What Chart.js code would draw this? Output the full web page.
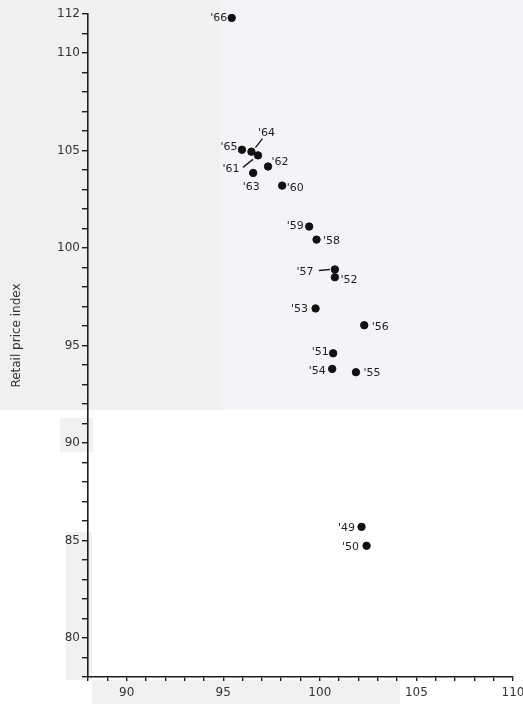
<!DOCTYPE html>
<html>
<head>
<meta charset="utf-8">
<script src="https://cdn.jsdelivr.net/npm/chart.js@4/dist/chart.umd.min.js"></script>
<style>
    html, body { margin: 0; padding: 0; background: #fff; }
    #wrap { width: 523px; height: 704px; position: relative; }
</style>
</head>
<body>
<div id="wrap"><canvas id="chart" width="523" height="704"></canvas></div>
<script>
// Year labels, with the index values
const years = ["'49", "'50", "'51", "'52", "'53", "'54", "'55", "'56", "'57", "'58",
    "'59", "'60", "'61", "'62", "'63", "'64", "'65", "'66"];
const xValues = [102.16, 102.42, 100.69, 100.78, 99.78, 100.64, 101.87, 102.3, 100.78, 99.83,
    99.45, 98.05, 96.8, 97.32, 96.55, 96.46, 95.97, 95.44];
const yValues = [85.7, 84.73, 94.6, 98.5, 96.9, 93.8, 93.63, 96.04, 98.9, 100.43,
    101.1, 103.2, 104.75, 104.18, 103.85, 104.94, 105.04, 111.8];

const xMin = 88, xMax = 110;
const yMin = 78, yMax = 112;
const yAxisTitle = 'Retail price index';

// label placement next to each dot (pixel offsets), plus leader lines
const labelPlacement = {
    "'49": [-15, 1], "'50": [-16, 1], "'51": [-13, -1], "'52": [14, 3],
    "'53": [-16, 1], "'54": [-15, 2], "'55": [16, 1], "'56": [16, 2],
    "'57": [-30, 3], "'58": [15, 2], "'59": [-14, 0], "'60": [13, 3],
    "'61": [-27, 14], "'62": [12, -4], "'63": [-2, 14], "'64": [15, -19],
    "'65": [-13, -3], "'66": [-13, 0]
};
const leaders = {
    "'64": [4, -4, 11, -13],
    "'61": [-15, 12, -5, 4],
    "'57": [-16, 1, -5, 0]
};

const FONT = '"DejaVu Sans", sans-serif';
const INK = '#1e1e1e';

const scanBackground = {
    id: 'scanBackground',
    beforeDraw(chart) {
        const ctx = chart.ctx;
        ctx.save();
        ctx.fillStyle = '#f0f0f0';
        ctx.fillRect(0, 0, 220, 410);
        ctx.fillStyle = '#f3f3f8';
        ctx.fillRect(220, 0, 303, 410);
        ctx.fillStyle = '#f1f1f1';
        ctx.fillRect(60, 418, 33, 34);
        ctx.fillRect(66, 532, 26, 148);
        ctx.fillRect(92, 680, 308, 24);
        ctx.restore();
    }
};

const pointLabels = {
    id: 'pointLabels',
    afterDatasetsDraw(chart) {
        const ctx = chart.ctx;
        const meta = chart.getDatasetMeta(0);

        ctx.save();
        ctx.font = `11px ${FONT}`;
        ctx.fillStyle = INK;
        ctx.strokeStyle = INK;
        ctx.lineWidth = 1.4;
        ctx.textAlign = 'center';
        ctx.textBaseline = 'middle';

        meta.data.forEach((pt, i) => {
            const year = years[i];
            const off = labelPlacement[year] || [12, 0];
            ctx.fillText(year, pt.x + off[0], pt.y + off[1]);

            const lead = leaders[year];
            if (lead) {
                ctx.beginPath();
                ctx.moveTo(pt.x + lead[0], pt.y + lead[1]);
                ctx.lineTo(pt.x + lead[2], pt.y + lead[3]);
                ctx.stroke();
            }
        });

        // rotated axis title
        const area = chart.chartArea;
        ctx.translate(17, (area.top + area.bottom) / 2 - 10);
        ctx.rotate(-Math.PI / 2);
        ctx.font = `12px ${FONT}`;
        ctx.fillStyle = '#333';
        ctx.fillText(yAxisTitle, 0, 0);
        ctx.restore();
    }
};

new Chart(document.getElementById('chart'), {
    type: 'scatter',
    data: {
        datasets: [{
            data: xValues.map((x, i) => ({x, y: yValues[i]})),
            backgroundColor: '#111',
            borderColor: '#111',
            pointRadius: 3.7,
            pointHoverRadius: 3.7
        }]
    },
    options: {
        responsive: false,
        animation: false,
        layout: {
            padding: {top: 14, right: 10, left: 0, bottom: 0}
        },
        plugins: {
            legend: {display: false},
            tooltip: {enabled: false}
        },
        scales: {
            x: {
                type: 'linear',
                min: xMin,
                max: xMax,
                afterFit: (scale) => {
                    scale.height = 27;
                    scale.paddingLeft = 0;
                    scale.paddingRight = 0;
                },
                border: {color: INK, width: 1.6},
                grid: {
                    drawOnChartArea: false,
                    drawTicks: true,
                    tickLength: 4,
                    color: INK,
                    lineWidth: 1.4
                },
                ticks: {
                    stepSize: 1,
                    autoSkip: false,
                    maxRotation: 0,
                    padding: 5,
                    color: '#333',
                    font: {family: FONT, size: 12},
                    callback: (v) => (v % 5 === 0 ? String(v) : '')
                }
            },
            y: {
                type: 'linear',
                min: yMin,
                max: yMax,
                afterFit: (scale) => { scale.width = 88; },
                border: {color: INK, width: 1.6},
                grid: {
                    drawOnChartArea: false,
                    drawTicks: true,
                    tickLength: 6,
                    color: INK,
                    lineWidth: 1.4
                },
                ticks: {
                    stepSize: 1,
                    autoSkip: false,
                    padding: 2,
                    color: '#333',
                    font: {family: FONT, size: 12},
                    callback: (v) => (v % 5 === 0 || v === yMax ? String(v) : '')
                }
            }
        }
    },
    plugins: [scanBackground, pointLabels]
});
</script>
</body>
</html>
